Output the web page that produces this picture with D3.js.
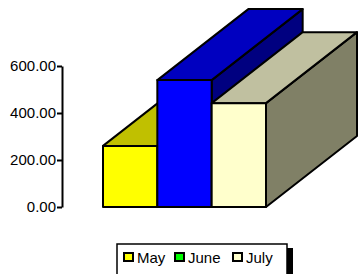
<!DOCTYPE html>
<html>
<head>
<meta charset="utf-8">
<script src="https://cdn.jsdelivr.net/npm/d3@7"></script>
<style>
  body { margin: 0; background: #fff; }
  text { font-family: "Liberation Sans", Arial, sans-serif; }
</style>
</head>
<body>
<div id="chart"></div>
<script>
var months = ["May", "June", "July"];
var values = [260, 540, 442];
var tickValues = [0, 200, 400, 600];
var frontColors = ["#ffff00", "#0000ff", "#ffffcc"];
var topColors = ["#c0c000", "#0000c0", "#c0c0a0"];
var sideColors = ["#808000", "#000080", "#808066"];
var legendColors = ["#ffff00", "#00ff00", "#ffffcc"];

var w = 361;
var h = 274;
var dx = 91, dy = -71; // depth offset of the 3d boxes

var svg = d3.select("#chart")
    .append("svg")
    .attr("width", w)
    .attr("height", h);

var x = d3.scaleBand()
    .domain(months)
    .range([103, 266])
    .padding(0);

var y = d3.scaleLinear()
    .domain([0, 600])
    .range([207, 66]);

// boxes, drawn left to right so later ones cover earlier
var bars = svg.selectAll("g.bar")
    .data(months)
    .enter()
    .append("g")
    .attr("class", "bar");

function pts(arr) {
    return arr.map(function (p) { return p.join(","); }).join(" ");
}

bars.each(function (d, i) {
    var g = d3.select(this);
    var x0 = x(d), x1 = x(d) + x.bandwidth();
    var y0 = y(0), y1 = y(values[i]);

    g.append("polygon")
        .attr("points", pts([[x1, y1], [x1 + dx, y1 + dy], [x1 + dx, y0 + dy], [x1, y0]]))
        .attr("fill", sideColors[i]);
    g.append("polygon")
        .attr("points", pts([[x0, y1], [x0 + dx, y1 + dy], [x1 + dx, y1 + dy], [x1, y1]]))
        .attr("fill", topColors[i]);
    g.append("rect")
        .attr("x", x0)
        .attr("y", y1)
        .attr("width", x1 - x0)
        .attr("height", y0 - y1)
        .attr("fill", frontColors[i]);
    g.selectAll("polygon, rect")
        .attr("stroke", "black")
        .attr("stroke-width", 2)
        .attr("stroke-linejoin", "round");
});

var axis = svg.append("g")
    .attr("transform", "translate(62,0)")
    .call(d3.axisLeft(y).tickValues(tickValues).tickFormat(d3.format(".2f")).tickSize(5).tickSizeOuter(0));

axis.select(".domain").attr("stroke", "black").attr("stroke-width", 2);
axis.selectAll(".tick line").attr("stroke", "black").attr("stroke-width", 2);
axis.selectAll(".tick text")
    .attr("x", -6)
    .attr("font-size", "15px")
    .attr("font-family", "Liberation Sans, Arial, sans-serif")
    .attr("fill", "black");

// legend
svg.append("rect")
    .attr("x", 121)
    .attr("y", 248)
    .attr("width", 172)
    .attr("height", 40)
    .attr("fill", "black");
svg.append("rect")
    .attr("x", 117)
    .attr("y", 244)
    .attr("width", 170)
    .attr("height", 40)
    .attr("fill", "white")
    .attr("stroke", "black")
    .attr("stroke-width", 1.5);

var legendX = [124, 175, 233];
var items = svg.selectAll("g.legend")
    .data(months)
    .enter()
    .append("g")
    .attr("class", "legend")
    .attr("transform", function (d, i) { return "translate(" + legendX[i] + ",253)"; });

items.append("rect")
    .attr("width", 9)
    .attr("height", 8)
    .attr("fill", function (d, i) { return legendColors[i]; })
    .attr("stroke", "black")
    .attr("stroke-width", 2);

items.append("text")
    .attr("x", 13)
    .attr("y", 10)
    .attr("font-size", "15px")
    .text(function (d) { return d; });
</script>
</body>
</html>
